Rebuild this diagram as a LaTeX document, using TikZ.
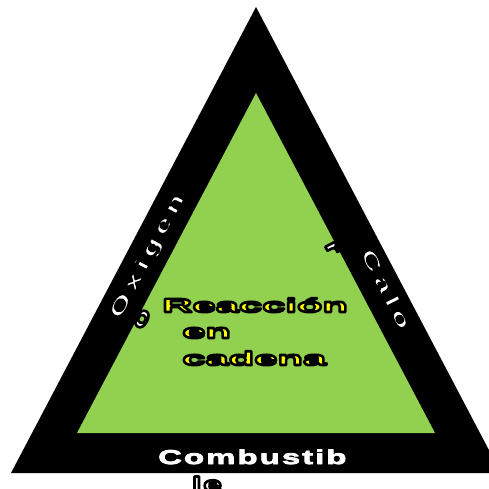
\documentclass[tikz,border=0pt]{standalone}
\usepackage{fontspec}
\newfontfamily\wfont{Liberation Sans}[FakeStretch=1.65,LetterSpace=10]
\newfontfamily\rfont{Liberation Sans}[FakeStretch=1.65,LetterSpace=26]
\newfontfamily\yfont{Liberation Sans}[FakeStretch=2.2]
\definecolor{tgreen}{RGB}{146,208,80}
\definecolor{tyellow}{RGB}{255,255,0}
\newcommand\outl[3]{\special{pdf:literal direct #1 w #2 RG 1 j 2 Tr}#3\special{pdf:literal direct 0 Tr}}
\begin{document}
\begin{tikzpicture}[x=1pt,y=-1pt,
  wlabel/.style={inner sep=0pt,font=\wfont\bfseries\fontsize{20}{24}\selectfont,text=white},
  rlabel/.style={inner sep=0pt,font=\rfont\bfseries\fontsize{20}{24}\selectfont,text=white},
  ylabel/.style={inner sep=0pt,anchor=base west,font=\yfont\bfseries\fontsize{19}{23}\selectfont,text=tyellow}]
\useasboundingbox (0,0) rectangle (489,489);
\begin{scope}
\clip (0,0) rectangle (489,489);
\fill[black] (11,473) coordinate (ol) -- (256,7) coordinate (ot) -- (501,473) coordinate (or) -- cycle;
\fill[tgreen] (77,433) coordinate (il) -- (256,93) coordinate (it) -- (435,433) coordinate (ir) -- cycle;
\node[rlabel,anchor=base west,rotate=62] (oxi) at (120,320) {\outl{1.4}{0 0 0}{Oxigen}};
\node[wlabel,anchor=center,rotate=62] (oxo) at (142,319) {\outl{2.6}{0 0 0}{o}};
\node[rlabel,anchor=base west,rotate=-63] (cal) at (360,253) {\outl{1.4}{0 0 0}{Calo}};
\node[wlabel,anchor=center,rotate=-63] (calr) at (332,248) {\outl{2.6}{0 0 0}{r}};
\node[wlabel,anchor=base west] (comb) at (158,464) {\outl{0.8}{1 1 1}{Combustib}};
\node[wlabel,anchor=base west] (combl) at (192,491) {\outl{2.6}{0 0 0}{le}};
\node[ylabel] (reac) at (162,312) {\outl{2.6}{0 0 0}{Reacción}};
\node[ylabel] (en) at (182,338) {\outl{2.6}{0 0 0}{en}};
\node[ylabel] (cad) at (182,365) {\outl{2.6}{0 0 0}{cadena}};
\end{scope}
\end{tikzpicture}
\end{document}
